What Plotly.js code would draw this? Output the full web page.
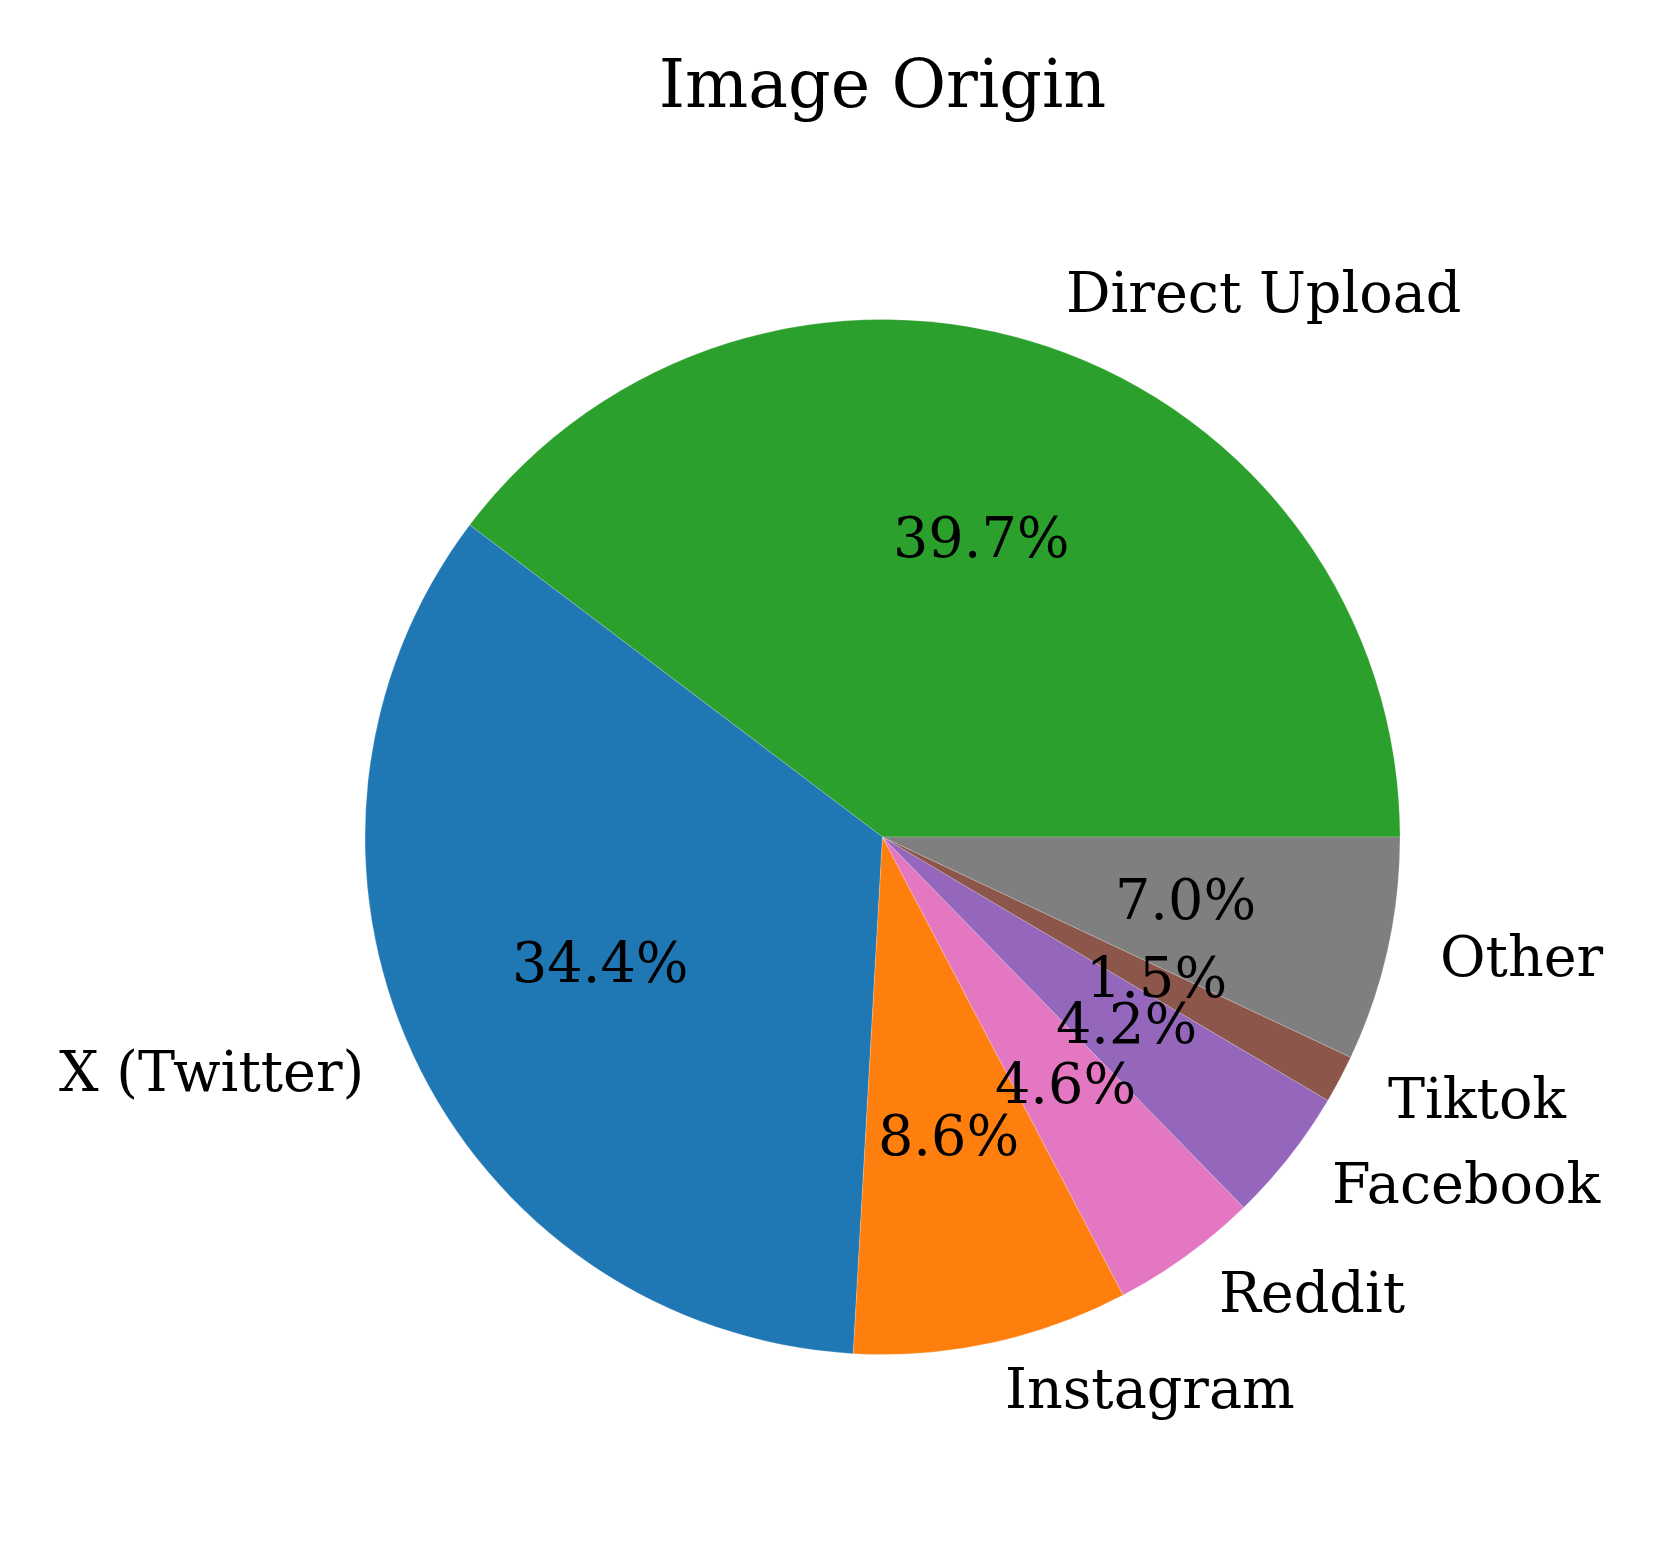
<!DOCTYPE html>
<html>
<head>
<meta charset="utf-8">
<script src="https://cdn.plot.ly/plotly-3.0.1.min.js"></script>
<style>
  html, body { margin: 0; padding: 0; background: #fff; }
  #chart { width: 1662px; height: 1544px; }
</style>
</head>
<body>
<div id="chart"></div>
<script>
// data, in drawing order (counterclockwise from 3 o'clock)
const sources = ['Direct Upload', 'X (Twitter)', 'Instagram', 'Reddit', 'Facebook', 'Tiktok', 'Other'];
const shares = [39.7, 34.4, 8.6, 4.6, 4.2, 1.5, 7.0];
const sliceColors = ['#2ca02c', '#1f77b4', '#ff7f0e', '#e377c2', '#9467bd', '#8c564b', '#7f7f7f'];

// page geometry (px)
const W = 1662, H = 1544;
const CX = 882.5, CY = 837, R = 517.5;
const FONT = 'DejaVu Serif, serif';

const cxp = CX / W;
const cyp = 1 - CY / H;

// labels like matplotlib: names at 1.1 r, percents at 0.6 r
const total = shares.reduce((a, b) => a + b, 0);
const annotations = [];
let cum = 0;
shares.forEach((v, i) => {
    const mid = (cum + v / 2) / total * 2 * Math.PI;
    cum += v;
    const c = Math.cos(mid), s = Math.sin(mid);

    annotations.push({
        text: sources[i],
        x: cxp + 1.1 * R * c / W,
        y: cyp + 1.1 * R * s / H,
        xref: 'paper', yref: 'paper',
        xanchor: c > 0 ? 'left' : 'right',
        yanchor: 'middle',
        yshift: 5,
        showarrow: false,
        font: { family: FONT, size: 55.6, color: '#000' }
    });
    annotations.push({
        text: v.toFixed(1) + '%',
        x: cxp + 0.6 * R * c / W,
        y: cyp + 0.6 * R * s / H,
        xref: 'paper', yref: 'paper',
        xanchor: 'center',
        yanchor: 'middle',
        yshift: 5,
        showarrow: false,
        font: { family: FONT, size: 55.6, color: '#000' }
    });
});

// plotly's counterclockwise pie ends the first slice at `rotation`,
// so shift it back by the first slice to start at 3 o'clock
const rot = 90 - 360 * shares[0] / total;

const trace = {
    type: 'pie',
    labels: sources,
    values: shares,
    sort: false,
    direction: 'counterclockwise',
    rotation: rot,
    textinfo: 'none',
    hoverinfo: 'label+percent',
    marker: { colors: sliceColors, line: { width: 0.4, color: 'rgba(255,255,255,0.5)' } },
    domain: {
        x: [(CX - R) / W, (CX + R) / W],
        y: [1 - (CY + R) / H, 1 - (CY - R) / H]
    },
    showlegend: false
};

const layout = {
    width: W,
    height: H,
    margin: { l: 0, r: 0, t: 0, b: 0 },
    paper_bgcolor: '#fff',
    title: {
        text: 'Image Origin',
        x: cxp,
        xanchor: 'center',
        y: 1 - 84 / H,
        yanchor: 'middle',
        font: { family: FONT, size: 66.7, color: '#000' }
    },
    annotations: annotations
};

Plotly.newPlot('chart', [trace], layout, { staticPlot: true });
</script>
</body>
</html>
